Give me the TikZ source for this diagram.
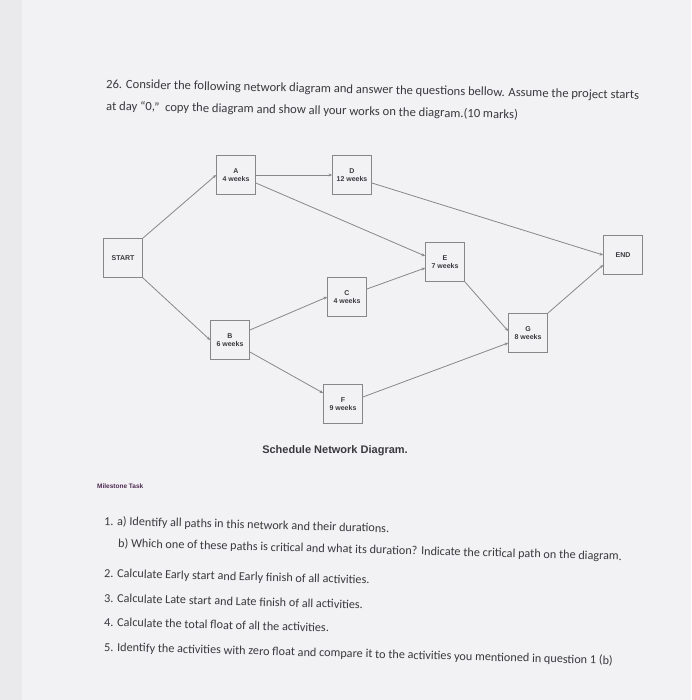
\documentclass[tikz,border=0pt]{standalone}
\usepackage{fontspec}
\setmainfont{Carlito}
\newfontfamily\boxfont{Liberation Sans}
\usetikzlibrary{arrows.meta,positioning}

\definecolor{paper}{RGB}{242,242,244}
\definecolor{edge}{RGB}{234,234,236}
\definecolor{ink}{RGB}{58,58,62}
\definecolor{wire}{RGB}{135,135,138}

\begin{document}
\begin{tikzpicture}[x=1pt,y=-1pt,
    task/.style={
    % The shape:
    rectangle,minimum size=39pt,inner sep=0pt,
    % The rest
    draw=wire,line width=0.8pt,fill=paper,
    align=center,text=ink,font=\boxfont\bfseries\fontsize{7pt}{8pt}\selectfont},
    link/.style={draw=wire,line width=0.8pt,-{Stealth[length=3.5pt,width=3pt]}},
    say/.style={anchor=base west,inner sep=0pt,text=ink,font=\fontsize{12.2pt}{14pt}\selectfont}]
    \useasboundingbox (0,0) rectangle (691,700);
    \fill[paper] (0,0) rectangle (691,700);
    \fill[edge] (0,0) rectangle (22,700);

    % heading
    \node (head1) [say,rotate=-1.2,font=\fontsize{12.6pt}{14pt}\selectfont] at (106,88) {26. Consider the following network diagram and answer the questions bellow. Assume the project starts};
    \node (head2) [say,rotate=-1.2,font=\fontsize{12.6pt}{14pt}\selectfont] at (106,110) {at day ``0,''\ \ copy the diagram and show all your works on the diagram.(10 marks)};

    % the network
    \node (start) [task] at (123,258) {START};
    \node (A) [task] at (236,175) {A\\4 weeks};
    \node (D) [task] at (352,175) {D\\12 weeks};
    \node (E) [task] at (445,262) {E\\7 weeks};
    \node (end) [task] at (623,255) {END};
    \node (C) [task] at (347,297) {C\\4 weeks};
    \node (B) [task] at (230,340) {B\\6 weeks};
    \node (F) [task] at (343,404) {F\\9 weeks};
    \node (G) [task] at (528,333) {G\\8 weeks};

    \draw[link] (start.north east) -- (A.west);
    \draw[link] (start.south east) -- (B.west);
    \draw[link] (A.east) -- (D.west);
    \draw[link] ([yshift=-8pt]A.east) -- ([yshift=6pt]E.west);
    \draw[link] ([yshift=-8pt]D.east) -- (end.west);
    \draw[link] ([yshift=10pt]B.east) -- (C.west);
    \draw[link] ([yshift=-12pt]B.east) -- ([yshift=11pt]F.west);
    \draw[link] ([yshift=8pt]C.east) -- ([yshift=-6pt]E.west);
    \draw[link] (E.south east) -- ([yshift=2pt]G.west);
    \draw[link] ([yshift=7pt]F.east) -- ([yshift=-10pt]G.west);
    \draw[link] (G.north east) -- ([yshift=-10pt]end.west);

    \node (caption) [font=\boxfont\bfseries\fontsize{11pt}{12pt}\selectfont,text=ink] at (335,451) {Schedule Network Diagram.};
    \node (legend) [anchor=west,inner sep=0pt,font=\boxfont\bfseries\fontsize{6.5pt}{7pt}\selectfont,text=ink!70!violet] at (97,486) {Milestone Task};

    % questions
    \node (q1a) [say,rotate=-1.5] at (104,525) {1. a) Identify all paths in this network and their durations.};
    \node (q1b) [say,rotate=-1.5] at (118,547) {b) Which one of these paths is critical and what its duration? Indicate the critical path on the diagram.};
    \node (q2) [say,rotate=-1.5] at (104,577) {2. Calculate Early start and Early finish of all activities.};
    \node (q3) [say,rotate=-1.5] at (104,602) {3. Calculate Late start and Late finish of all activities.};
    \node (q4) [say,rotate=-1.5] at (104,626) {4. Calculate the total float of all the activities.};
    \node (q5) [say,rotate=-1.5] at (104,651) {5. Identify the activities with zero float and compare it to the activities you mentioned in question 1 (b)};
\end{tikzpicture}
\end{document}
